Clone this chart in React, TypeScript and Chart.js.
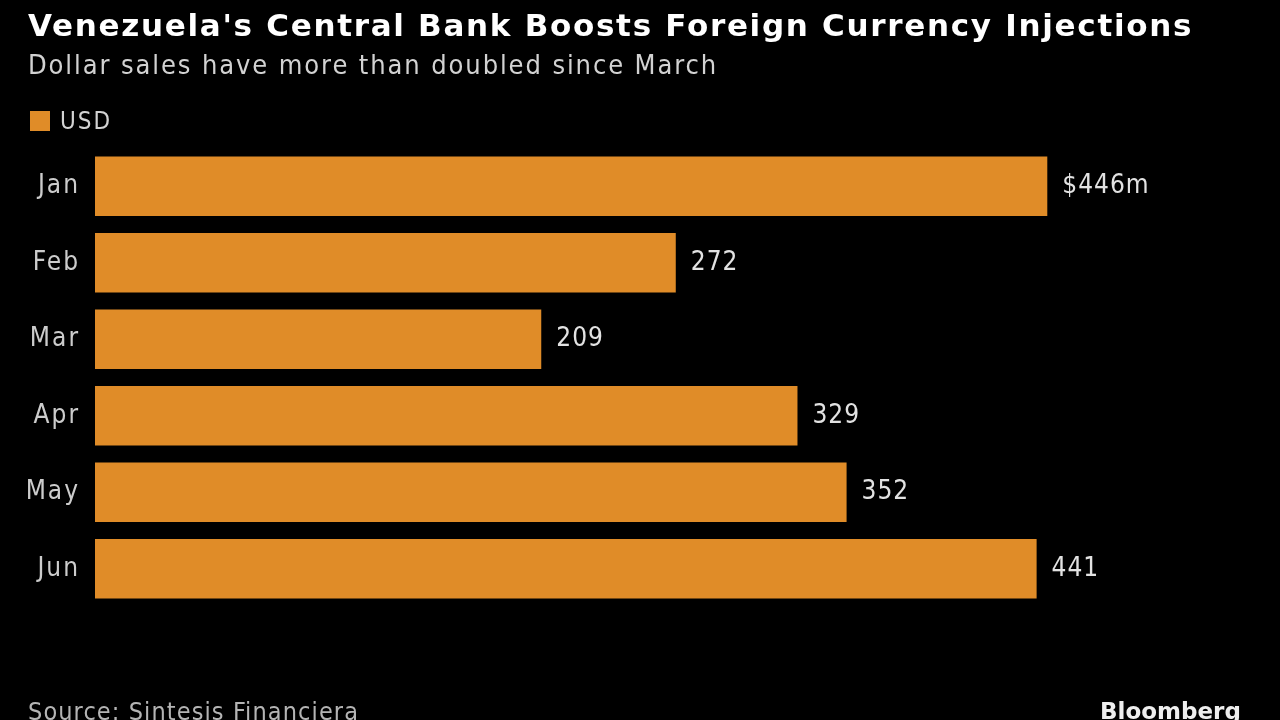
import React, { useEffect, useRef } from "react";
import { Chart, registerables } from "chart.js";

Chart.register(...registerables);

const categories = ["Jan", "Feb", "Mar", "Apr", "May", "Jun"];
const usdValues = [446, 272, 209, 329, 352, 441];
const valueLabels = ["$446m", "272", "209", "329", "352", "441"];
const seriesName = "USD";

const BAR = "#E08C28";
const COND = "'DejaVu Sans Condensed', 'DejaVu Sans', sans-serif";

const spacingPlugin = {
  id: "spacing",
  beforeDraw(chart: any) {
    chart.ctx.letterSpacing = "2px";
  },
};

const labelPlugin = {
  id: "valueLabels",
  afterDatasetsDraw(chart: any) {
    const ctx = chart.ctx;
    const meta = chart.getDatasetMeta(0);
    ctx.save();
    ctx.letterSpacing = "1px";
    ctx.font = `26px ${COND}`;
    ctx.fillStyle = "#e2e2e2";
    ctx.textAlign = "left";
    ctx.textBaseline = "middle";
    meta.data.forEach((bar: any, i: number) => {
      ctx.fillText(valueLabels[i], bar.x + 15, bar.y);
    });
    ctx.restore();
  },
};

export default function App() {
  const ref = useRef<HTMLCanvasElement>(null);
  useEffect(() => {
    document.body.style.margin = "0";
    document.body.style.background = "#000";
    const chart = new Chart(ref.current!, {
      type: "bar",
      data: {
        labels: categories,
        datasets: [
          {
            label: seriesName,
            data: usdValues,
            backgroundColor: BAR,
            borderWidth: 0,
            barPercentage: 0.78,
            categoryPercentage: 1,
          },
        ],
      },
      options: {
        indexAxis: "y",
        animation: false,
        responsive: false,
        layout: { padding: { left: 0, right: 32, top: 148, bottom: 113 } },
        plugins: { legend: { display: false }, tooltip: { enabled: false } },
        scales: {
          x: { display: false, min: 0, max: 540 },
          y: {
            afterFit: (s: any) => {
              s.width = 95;
            },
            grid: { display: false, drawTicks: false },
            border: { display: false },
            ticks: {
              color: "#cccccc",
              padding: 15,
              font: { family: COND, size: 26 },
            },
          },
        },
      },
      plugins: [spacingPlugin, labelPlugin],
    });
    return () => chart.destroy();
  }, []);

  return (
    <div style={{ position: "relative", width: 1280, height: 720, background: "#000", overflow: "hidden" }}>
      <canvas ref={ref} width={1280} height={720} style={{ position: "absolute", left: 0, top: 0 }} />
      <div style={{ position: "absolute", left: 28, top: 5, color: "#fff", font: "bold 31px 'DejaVu Sans', sans-serif", letterSpacing: "1.7px", lineHeight: "40px", whiteSpace: "nowrap" }}>
        Venezuela's Central Bank Boosts Foreign Currency Injections
      </div>
      <div style={{ position: "absolute", left: 28, top: 45, color: "#d2d2d2", font: `27px ${COND}`, letterSpacing: "1.9px", lineHeight: "40px", whiteSpace: "nowrap" }}>
        Dollar sales have more than doubled since March
      </div>
      <div style={{ position: "absolute", left: 30, top: 101, display: "flex", alignItems: "center", height: 40 }}>
        <div style={{ width: 20, height: 20, background: BAR }} />
        <span style={{ marginLeft: 10, color: "#d2d2d2", font: `24px ${COND}`, letterSpacing: "2px" }}>{seriesName}</span>
      </div>
      <div style={{ position: "absolute", left: 28, top: 692, color: "#b4b4b4", font: `25px ${COND}`, letterSpacing: "1.1px", lineHeight: "40px", whiteSpace: "nowrap" }}>
        Source: Sintesis Financiera
      </div>
      <div style={{ position: "absolute", left: 1100, top: 691, color: "#eee", font: "bold 23px 'DejaVu Sans', sans-serif", lineHeight: "40px", whiteSpace: "nowrap" }}>
        Bloomberg
      </div>
    </div>
  );
}
